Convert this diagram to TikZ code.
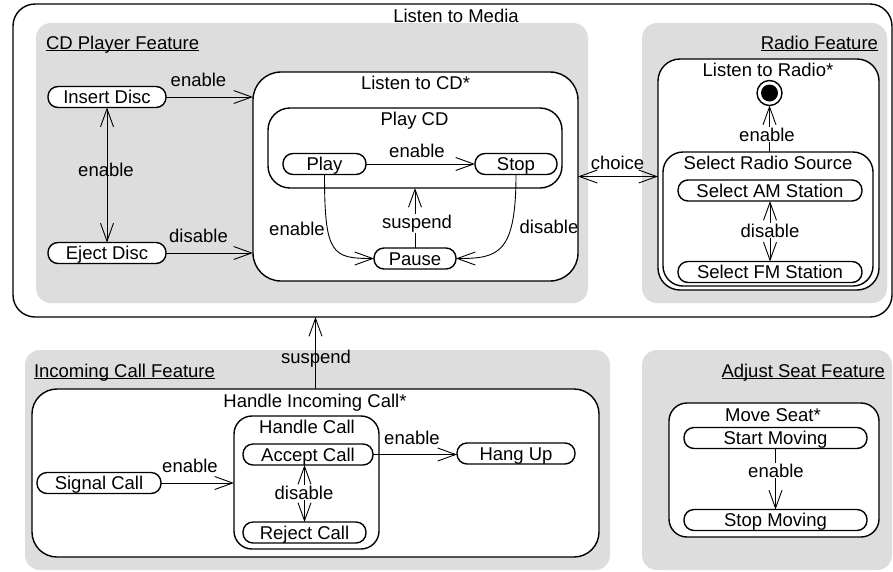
\documentclass[tikz,border=0pt]{standalone}
\usepackage{fontspec}
\setmainfont{Liberation Sans}
\usetikzlibrary{arrows.meta,calc}
\definecolor{featgray}{RGB}{221,221,221}
\newcommand\myul[1]{\setbox0\hbox{#1}\rlap{\rule[-2.2pt]{\wd0}{1pt}}\box0}
\begin{document}
\begin{tikzpicture}[x=1pt,y=-1pt,
 every node/.style={font=\fontsize{18.5}{22}\selectfont, inner sep=0pt, outer sep=0pt},
 feat/.style={fill=featgray, rounded corners=15pt, draw=none},
 region/.style={draw=black, fill=white, line width=1.4pt},
 pill/.style={draw=black, fill=white, line width=1.4pt, rounded corners=10pt, minimum height=21pt, text height=13.2pt, text depth=0pt},
 lbl/.style={anchor=base},
 wlbl/.style={anchor=base, fill=white, inner sep=1pt},
 conn/.style={line width=0.9pt, -{Straight Barb[length=18pt,width=13pt]}},
 dconn/.style={line width=0.9pt, {Straight Barb[length=18pt,width=13pt]}-{Straight Barb[length=18pt,width=13pt]}}]
\useasboundingbox (0,0) rectangle (893,571);
% outer container
\node[region, rounded corners=22pt, minimum width=879pt, minimum height=313pt] (media) at (452.5,160.5) {};
\node[lbl] (mediat) at (456,22) {Listen to Media};
% feature areas
\node[feat, minimum width=552pt, minimum height=280pt] (cdf) at (312,163) {};
\node[feat, minimum width=245pt, minimum height=280pt] (radf) at (764.5,163) {};
\node[feat, minimum width=585pt, minimum height=220pt] (incf) at (317.5,460) {};
\node[feat, minimum width=250pt, minimum height=220pt] (seatf) at (767,460) {};
\node[anchor=base west] (cdft) at (46,49) {\myul{CD Player Feature}};
\node[anchor=base east] (radft) at (878,49) {\myul{Radio Feature}};
\node[anchor=base west] (incft) at (34,377) {\myul{Incoming Call Feature}};
\node[anchor=base east] (seatft) at (885,377) {\myul{Adjust Seat Feature}};
% CD player
\node[region, rounded corners=28pt, minimum width=325pt, minimum height=209pt] (lcd) at (415.5,176.5) {};
\node[lbl] (lcdt) at (415.5,89) {Listen to CD*};
\node[region, rounded corners=22pt, minimum width=294pt, minimum height=80pt] (playcd) at (415,148) {};
\node[lbl] (playcdt) at (414.5,125) {Play CD};
\node[pill, minimum width=118pt] (insert) at (107,97) {Insert Disc};
\node[pill, minimum width=118pt] (eject) at (107,253) {Eject Disc};
\node[pill, minimum width=83pt] (play) at (324.5,164) {Play};
\node[pill, minimum width=82pt] (stop) at (516,164) {Stop};
\node[pill, minimum width=82pt] (pause) at (415,258.5) {Pause};
% radio
\node[region, rounded corners=22pt, minimum width=221pt, minimum height=231pt] (lr) at (768.5,174.5) {};
\node[lbl] (lrt) at (768,76) {Listen to Radio*};
\node[circle, draw=black, fill=white, line width=1.4pt, minimum size=25pt] (bull) at (769.5,93) {};
\node[circle, fill=black, minimum size=17pt] (bulldot) at (bull.center) {};
\node[region, rounded corners=20pt, minimum width=210pt, minimum height=134pt] (srs) at (768,219) {};
\node[lbl] (srst) at (768,169) {Select Radio Source};
\node[pill, minimum width=184pt] (am) at (770,190.5) {Select AM Station};
\node[pill, minimum width=184pt] (fm) at (770,272) {Select FM Station};
% incoming call
\node[region, rounded corners=25pt, minimum width=567pt, minimum height=168pt] (hic) at (315.5,473) {};
\node[lbl] (hict) at (315,407) {Handle Incoming Call*};
\node[region, rounded corners=18pt, minimum width=145pt, minimum height=133pt] (hc) at (306.5,482.5) {};
\node[lbl] (hct) at (307,433) {Handle Call};
\node[pill, minimum width=124pt] (signal) at (99,483) {Signal Call};
\node[pill, minimum width=130pt] (accept) at (308,454.5) {Accept Call};
\node[pill, minimum width=123pt] (reject) at (304.5,532.5) {Reject Call};
\node[pill, minimum width=118pt] (hangup) at (516,453.5) {Hang Up};
% seat
\node[region, rounded corners=18pt, minimum width=210pt, minimum height=134pt] (ms) at (774,470) {};
\node[lbl] (mst) at (773,421) {Move Seat*};
\node[pill, minimum width=183pt] (startm) at (775.5,438) {Start Moving};
\node[pill, minimum width=183pt] (stopm) at (775.5,520) {Stop Moving};
% connectors
\draw[conn] (insert.east) -- (insert.east -| lcd.west);
\draw[conn] (eject.east) -- (eject.east -| lcd.west);
\draw[dconn] (insert.south) -- (eject.north);
\draw[conn] (play.east) -- (stop.west);
\draw[conn] (pause.north) -- (pause.north |- playcd.south);
\draw[conn] (play.south) .. controls +(0,80) and +(-42,0) .. (pause.west);
\draw[conn] (stop.south) .. controls +(0,80) and +(42,0) .. (pause.east);
\draw[dconn] (lcd.east) -- (lcd.east -| lr.west);
\draw[conn] (srs.north -| bull.south) -- (bull.south);
\draw[dconn] (am.south) -- (fm.north);
\draw[conn] (hic.north) -- (hic.north |- media.south);
\draw[conn] (signal.east) -- (signal.east -| hc.west);
\draw[dconn] (reject.north |- accept.south) -- (reject.north);
\draw[conn] (accept.east) -- (accept.east -| hangup.west);
\draw[conn] (startm.south) -- (stopm.north);
% connector labels
\node[lbl] (l1) at (198.5,86) {enable};
\node[lbl] (l2) at (198.5,242) {disable};
\node[lbl] (l3) at (106,176) {enable};
\node[lbl] (l4) at (417,157) {enable};
\node[wlbl] (l5) at (417,228) {suspend};
\node[lbl] (l6) at (297,235) {enable};
\node[lbl] (l7) at (549,233) {disable};
\node[lbl] (l8) at (617.5,169) {choice};
\node[wlbl] (l9) at (767,141) {enable};
\node[wlbl] (l10) at (770,237) {disable};
\node[lbl] (l11) at (316,363) {suspend};
\node[lbl] (l12) at (190,472) {enable};
\node[wlbl] (l13) at (304,499) {disable};
\node[lbl] (l14) at (412,444) {enable};
\node[wlbl] (l15) at (776,477) {enable};
\end{tikzpicture}
\end{document}
